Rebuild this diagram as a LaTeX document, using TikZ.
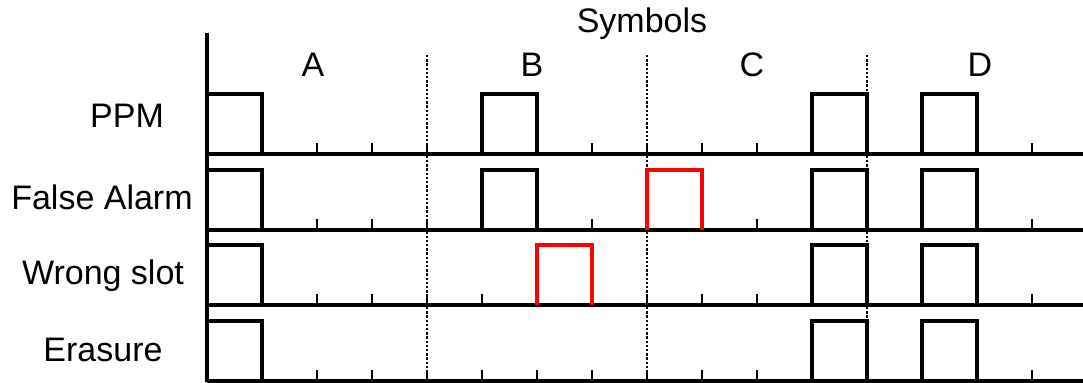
\documentclass[tikz,border=0pt]{standalone}
\usepackage{fontspec}
\setmainfont{Liberation Sans}
\usetikzlibrary{positioning}
\tikzset{
lbl/.style = {anchor=base, inner sep=0pt, font=\fontsize{17pt}{20pt}\selectfont},
axisline/.style = {line width=1.8pt},
baseln/.style = {line width=1.8pt},
tickmark/.style = {line width=1.2pt},
symdiv/.style = {line width=0.8pt, dash pattern=on 1.2pt off 0.9pt},
pulse/.style = {line width=1.8pt, line join=miter},
errpulse/.style = {pulse, draw=red}
}

\begin{document}
\begin{tikzpicture}[x=0.5pt, y=-0.5pt]
  \useasboundingbox (0,0) rectangle (1083,383);

  % labels
  \node [lbl] (title)     at (642,33)  {Symbols};
  \node [lbl] (symA)      at (313,77)  {A};
  \node [lbl] (symB)      at (532,77)  {B};
  \node [lbl] (symC)      at (752,77)  {C};
  \node [lbl] (symD)      at (980,77)  {D};
  \node [lbl] (lblppm)    at (127,128) {PPM};
  \node [lbl] (lblfalse)  at (102,210) {False Alarm};
  \node [lbl] (lblwrong)  at (103,285) {Wrong slot};
  \node [lbl] (lblerase)  at (103,362) {Erasure};

  % symbol borders
  \foreach \xd in {427,647,867}
    \draw [symdiv] (\xd,55) -- (\xd,381);

  % time axes with slot ticks
  \foreach \yb in {154,230,305,381} {
    \draw [baseln] (207,\yb) -- (1083,\yb);
    \foreach \k in {1,...,15}
      \draw [tickmark] (207+55*\k,\yb) -- ++(0,-11);
  }

  % pulses
  \foreach \yb/\slots in {154/{0,5,11,13}, 230/{0,5,11,13}, 305/{0,11,13}, 381/{0,11,13}}
    \foreach \k in \slots
      \draw [pulse] (207+55*\k,\yb) -- ++(0,-60) -- ++(55,0) -- ++(0,60);
  \draw [errpulse] (207+55*8,230) -- ++(0,-60) -- ++(55,0) -- ++(0,60);
  \draw [errpulse] (207+55*6,305) -- ++(0,-60) -- ++(55,0) -- ++(0,60);

  % vertical axis
  \coordinate (axtop) at (207,33);
  \coordinate (axbot) at (207,382);
  \draw [axisline] (axtop) -- (axbot);
\end{tikzpicture}
\end{document}
